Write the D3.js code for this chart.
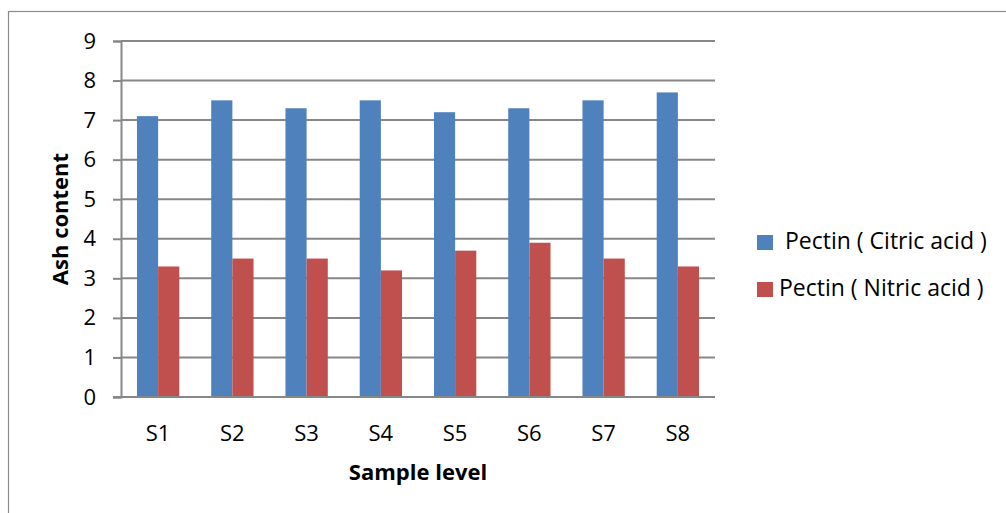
<!DOCTYPE html>
<html>
<head>
<meta charset="utf-8">
<script src="https://cdn.jsdelivr.net/npm/d3@7"></script>
<style>
  html, body { margin: 0; padding: 0; background: #fff; }
  svg text { font-family: "Open Sans", "Noto Sans", sans-serif; fill: #000; }
</style>
</head>
<body>
<svg id="chart" width="1006" height="513"></svg>
<script>
// Sample levels and ash content for each extraction acid
const categories = ["S1", "S2", "S3", "S4", "S5", "S6", "S7", "S8"];
const citricValues = [7.1, 7.5, 7.3, 7.5, 7.2, 7.3, 7.5, 7.7];
const nitricValues = [3.3, 3.5, 3.5, 3.2, 3.7, 3.9, 3.5, 3.3];
const seriesNames = ["Pectin ( Citric acid )", "Pectin ( Nitric acid )"];
const seriesColors = ["#4F81BD", "#C0504D"];
const yTicks = [0, 1, 2, 3, 4, 5, 6, 7, 8, 9];

const series = [citricValues, nitricValues];

const svg = d3.select("#chart");

// Outer chart frame
svg.append("rect")
  .attr("x", 8.5).attr("y", 11.5)
  .attr("width", 1010).attr("height", 520)
  .attr("fill", "none").attr("stroke", "#8c8c8c").attr("stroke-width", 1.2);

const plot = { left: 121, right: 715, top: 41, bottom: 397 };

const x = d3.scaleBand()
  .domain(categories)
  .range([plot.left, plot.right])
  .paddingInner(0.43)
  .paddingOuter(0.215);

const xSub = d3.scaleBand()
  .domain(d3.range(series.length))
  .range([0, x.bandwidth()]);

const y = d3.scaleLinear().domain([0, 9]).range([plot.bottom, plot.top]);

// Horizontal gridlines
svg.append("g")
  .selectAll("line")
  .data(yTicks.filter(d => d > 0))
  .join("line")
  .attr("x1", plot.left).attr("x2", plot.right)
  .attr("y1", d => y(d)).attr("y2", d => y(d))
  .attr("stroke", "#878787").attr("stroke-width", 2);

// Y axis
const yAxis = svg.append("g")
  .attr("transform", `translate(${plot.left},0)`)
  .call(d3.axisLeft(y).tickValues(yTicks).tickSize(8).tickPadding(17).tickFormat(d3.format("d")));
yAxis.select(".domain").attr("stroke", "#878787").attr("stroke-width", 2);
yAxis.selectAll(".tick line").attr("stroke", "#878787").attr("stroke-width", 2);
yAxis.selectAll(".tick text").attr("font-size", 22).attr("font-family", "Open Sans, sans-serif").attr("fill", "#000");

// Bars
const groups = svg.append("g")
  .selectAll("g")
  .data(categories)
  .join("g")
  .attr("transform", d => `translate(${x(d)},0)`);

groups.selectAll("rect")
  .data((d, i) => series.map((s, k) => ({ k, v: s[i] })))
  .join("rect")
  .attr("x", d => xSub(d.k))
  .attr("width", xSub.bandwidth())
  .attr("y", d => y(d.v))
  .attr("height", d => y(0) - y(d.v))
  .attr("fill", d => seriesColors[d.k]);

// X axis baseline and category labels
svg.append("line")
  .attr("x1", plot.left - 8).attr("x2", plot.right)
  .attr("y1", plot.bottom).attr("y2", plot.bottom)
  .attr("stroke", "#878787").attr("stroke-width", 2);

svg.append("g")
  .selectAll("text")
  .data(categories)
  .join("text")
  .attr("x", d => x(d) + x.bandwidth() / 2)
  .attr("y", 441)
  .attr("text-anchor", "middle")
  .attr("font-size", 22)
  .text(d => d);

// Axis titles
svg.append("text")
  .attr("x", (plot.left + plot.right) / 2)
  .attr("y", 480)
  .attr("text-anchor", "middle")
  .attr("font-size", 22)
  .attr("font-weight", "bold")
  .text("Sample level");

svg.append("text")
  .attr("transform", `translate(68,${(plot.top + plot.bottom) / 2}) rotate(-90)`)
  .attr("text-anchor", "middle")
  .attr("font-size", 22)
  .attr("font-weight", "bold")
  .text("Ash content");

// Legend
const legend = svg.append("g")
  .selectAll("g")
  .data(seriesNames)
  .join("g")
  .attr("transform", (d, i) => `translate(757,${235 + i * 47})`);

legend.append("rect")
  .attr("width", 16).attr("height", 15)
  .attr("fill", (d, i) => seriesColors[i]);

legend.append("text")
  .attr("x", (d, i) => i === 0 ? 28 : 22)
  .attr("y", 14)
  .attr("font-size", 23)
  .text(d => d);
</script>
</body>
</html>
